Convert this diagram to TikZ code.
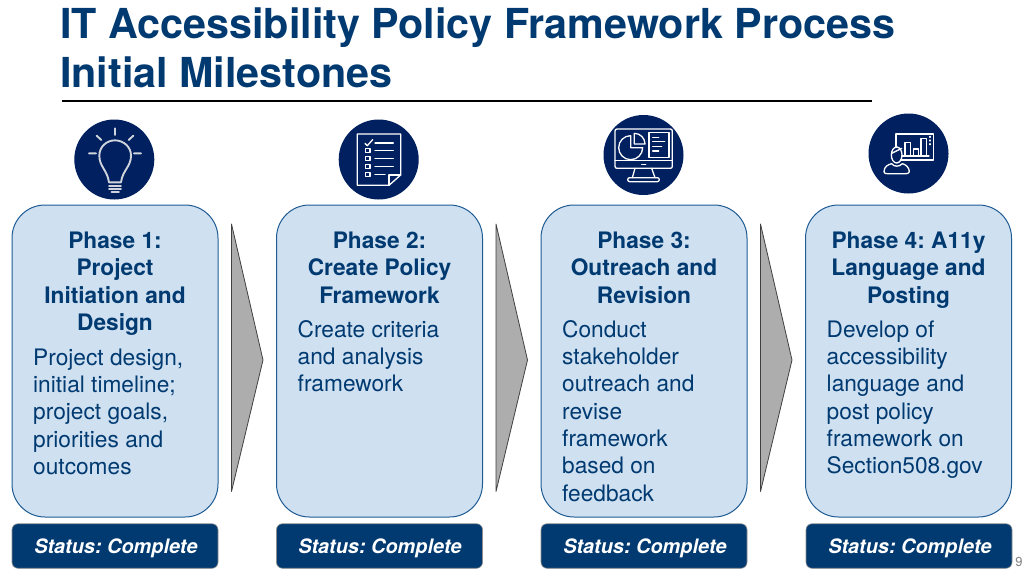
\documentclass[tikz,border=0pt]{standalone}
\usepackage{fontspec}
\setmainfont{TeX Gyre Heros}
\definecolor{navy}{HTML}{003A70}
\definecolor{iconbg}{HTML}{00205F}
\definecolor{panelfill}{HTML}{CFE0F1}
\definecolor{paneledge}{HTML}{1F5C94}
\definecolor{iconline}{HTML}{D0D4DC}
\tikzset{
 panel/.style={draw=paneledge,line width=1pt,fill=panelfill,rounded corners=33pt,minimum width=206pt,minimum height=312pt,inner sep=0pt},
 statusbox/.style={draw=black!45,line width=.6pt,fill=navy,rounded corners=6pt,minimum width=206pt,minimum height=44.5pt,inner sep=0pt},
 statuslabel/.style={inner sep=0pt,text=white,font=\fontsize{19.9}{24}\selectfont\bfseries\itshape},
 headtext/.style={anchor=north,inner sep=0pt,align=center,text=navy,font=\fontsize{22.7}{27.3}\selectfont\bfseries},
 bodytext/.style={anchor=north west,inner sep=0pt,align=left,text=navy,font=\fontsize{22.7}{27.3}\selectfont},
 chevron/.style={draw=black!75,line width=.8pt,fill=black!32,line join=round},
 iconcircle/.style={circle,fill=iconbg,minimum size=80pt,inner sep=0pt},
 iconstroke/.style={draw=iconline,line width=1.3pt,line cap=round,line join=round},
 titletext/.style={anchor=base west,inner sep=0pt,text=navy,font=\fontsize{41.3}{49}\selectfont\bfseries}
}
\begin{document}
\frenchspacing
\begin{tikzpicture}[x=1pt,y=-1pt]
\useasboundingbox (0,0) rectangle (1024,576);
\fill[white] (0,0) rectangle (1024,576);
% title
\node[titletext] (t1) at (60,38.5) {IT Accessibility Policy Framework Process};
\node[titletext] (t2) at (60,87.5) {Initial Milestones};
\draw[black,line width=2.4pt] (62,101) -- (872,101);
% panels
\node[panel] (p1) at (115,361) {};
\node[panel] (p2) at (379.5,361) {};
\node[panel] (p3) at (644,361) {};
\node[panel] (p4) at (908.5,361) {};
% chevrons
\draw[chevron] (231.5,224) -- (263,360) -- (231.5,491.5) -- cycle;
\draw[chevron] (496,224) -- (527.5,360) -- (496,491.5) -- cycle;
\draw[chevron] (760.5,224) -- (792,360) -- (760.5,491.5) -- cycle;
% status
\node[statusbox] (s1) at (115,546) {};
\node[statusbox] (s2) at (379.5,546) {};
\node[statusbox] (s3) at (644,546) {};
\node[statusbox] (s4) at (909,546) {};
\node[statuslabel] (l1) at (116,548) {Status: Complete};
\node[statuslabel] (l2) at (380,548) {Status: Complete};
\node[statuslabel] (l3) at (645,548) {Status: Complete};
\node[statuslabel] (l4) at (910,548) {Status: Complete};
% text
\node[headtext] (h1) at (115,229.3) {\strut Phase 1:\\\strut Project\\\strut Initiation and\\\strut Design};
\node[bodytext] (b1) at (33,346) {\strut Project design,\\\strut initial timeline;\\\strut project goals,\\\strut priorities and\\\strut outcomes};
\node[headtext] (h2) at (379.5,229.3) {\strut Phase 2:\\\strut Create Policy\\\strut Framework};
\node[bodytext] (b2) at (297.5,318) {\strut Create criteria\\\strut and analysis\\\strut framework};
\node[headtext] (h3) at (644,229.3) {\strut Phase 3:\\\strut Outreach and\\\strut Revision};
\node[bodytext] (b3) at (562,318) {\strut Conduct\\\strut stakeholder\\\strut outreach and\\\strut revise\\\strut framework\\\strut based on\\\strut feedback};
\node[headtext] (h4) at (908.5,229.3) {\strut Phase 4: A11y\\\strut Language and\\\strut Posting};
\node[bodytext] (b4) at (826.5,318) {\strut Develop of\\\strut accessibility\\\strut language and\\\strut post policy\\\strut framework on\\\strut Section508.gov};
\node[anchor=base,inner sep=0pt,text=black!50,font=\fontsize{13}{15}\selectfont] (pg) at (1019,566) {9};
% icon circles
\node[iconcircle] (c1) at (114.3,159.5) {};
\node[iconcircle] (c2) at (378.7,159.5) {};
\node[iconcircle] (c3) at (643.5,155) {};
\node[iconcircle] (c4) at (908.5,153.5) {};
% bulb + document
\begin{scope}[shift={(50,105)},x=.33333pt,y=-.33333pt]
 \begin{scope}[iconstroke,line width=1.9pt]
 \draw (195,70)--(195,90) (140,92)--(154,105) (250,92)--(236,105) (117,145)--(138,145) (252,145)--(273,145);
 \draw (177,232) .. controls (172,195) and (148,185) .. (148,152) .. controls (148,125) and (170,106) .. (195,106) .. controls (220,106) and (243,125) .. (243,152) .. controls (243,185) and (218,195) .. (213,232) -- cycle;
 \draw (177,242)--(213,242) (177,251)--(213,251) (185,260)--(207,260);
 \end{scope}
 \begin{scope}[iconstroke,draw=white]
 \draw (922,87)--(1052,87)--(1052,210)--(1017,241)--(922,241)--cycle;
 \draw (1017,241)--(1017,210)--(1052,210);
 \draw (945,115)--(952,122)--(968,104);
 \draw (975,114)--(1030,114) (975,136)--(1030,136) (975,160)--(1030,160) (975,184)--(1030,184) (975,208)--(1005,208);
 \foreach \yy in {136,160,184,208} \draw (946,\yy-6) rectangle (960,\yy+6);
 \end{scope}
\end{scope}
% monitor + presenter
\begin{scope}[shift={(590,105)},x=.33333pt,y=-.33333pt]
 \begin{scope}[iconstroke,draw=white]
 \draw[rounded corners=2pt] (75,72) rectangle (247,190);
 \draw (75,167)--(247,167) (155,178)--(167,178);
 \draw (135,190)--(127,218) (185,190)--(195,218);
 \draw[rounded corners=2pt] (113,218) rectangle (208,230);
 \draw (122,92) arc[start angle=-90,end angle=-360,radius=36] -- (122,128) -- cycle;
 \draw (133,85) arc[start angle=-90,end angle=0,radius=32] -- (133,117) -- cycle;
 \draw (177,82) rectangle (237,157);
 \draw (188,97)--(206,97) (188,110)--(224,110) (188,124)--(215,124) (188,138)--(206,138);
 \draw (918,128)--(918,87)--(1030,87)--(1030,165)--(932,165);
 \draw (935,153)--(1017,153);
 \draw (945,153)--(945,112)--(962,112)--(962,153);
 \draw (970,153)--(970,132)--(985,132)--(985,153);
 \draw (993,153)--(993,100)--(1010,100)--(1010,153);
 \draw (1020,94)--(1020,97) (1020,105)--(1020,108) (1020,116)--(1020,119);
 \draw (920,150) ellipse[x radius=16,y radius=24];
 \draw (905,145) -- (935,130);
 \draw (882,200) .. controls (882,185) and (895,178) .. (905,176) .. controls (912,186) and (928,186) .. (937,176) .. controls (947,178) and (958,188) .. (958,200) .. controls (958,207) and (950,206) .. (945,206) -- (892,206) .. controls (886,206) and (882,205) .. (882,200) -- cycle;
 \end{scope}
\end{scope}
\end{tikzpicture}
\end{document}
